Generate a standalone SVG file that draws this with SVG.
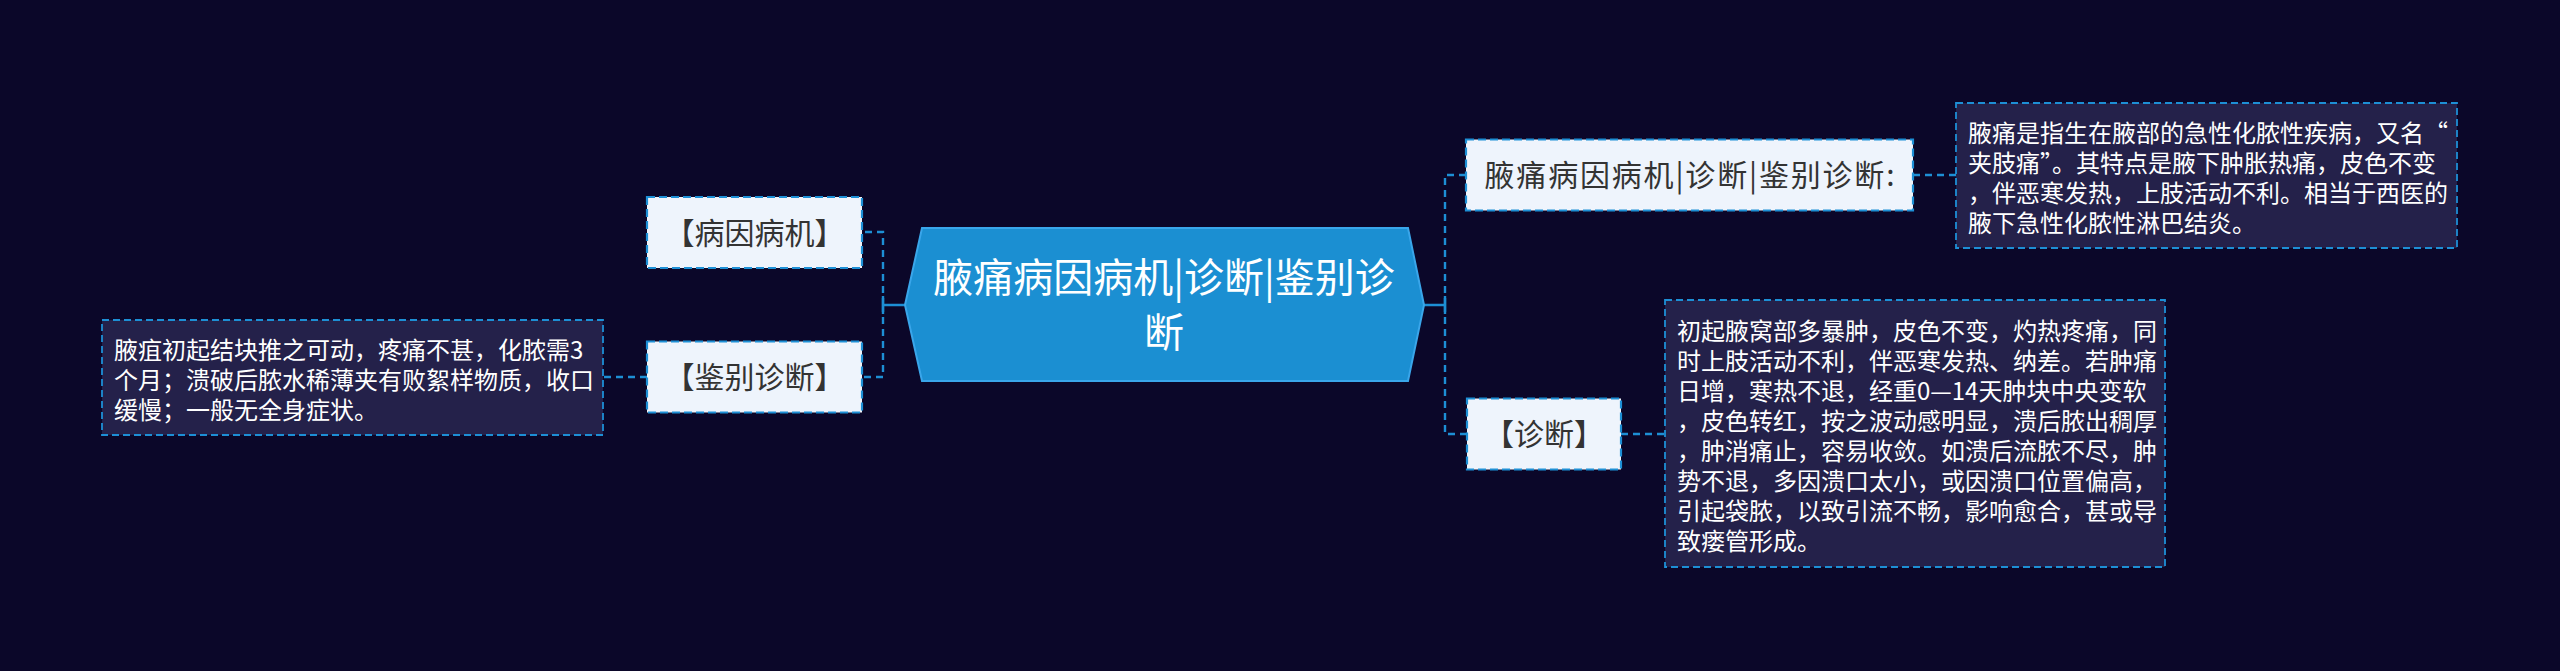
<svg xmlns="http://www.w3.org/2000/svg" width="2560" height="671" viewBox="0 0 2560 671">
<style>
.bg{fill:#0b0729}
.conn{fill:none;stroke:#1d8fd5;stroke-width:2.4;stroke-dasharray:7 5}
.solid{fill:none;stroke:#1d8fd5;stroke-width:2.4}
.node{fill:#eef4fc;stroke:#1d8fd5;stroke-width:2.2;stroke-dasharray:8 4}
.desc{fill:#24214a;stroke:#1d8fd5;stroke-width:1.8;stroke-dasharray:7 4}
.hex{fill:#1b8fd2;stroke:#3aa6ea;stroke-width:2}
.t-node{font-family:"Noto Sans CJK SC","Noto Sans",sans-serif;font-size:30px;fill:#333333;text-anchor:middle}
.t-main{font-family:"Noto Sans CJK SC","Noto Sans",sans-serif;font-size:40px;fill:#ffffff;text-anchor:middle}
.t-desc{font-family:"Noto Sans CJK SC","Noto Sans",sans-serif;font-size:24px;fill:#ffffff}
</style>
<rect class="bg" x="0" y="0" width="2560" height="671"/>
<g id="connectors">
  <path class="conn" d="M883 305 V232 H862"/>
  <path class="conn" d="M883 305 V377 H862"/>
  <path class="solid" d="M883 305 H905 M883 296 V314"/>
  <path class="conn" d="M647 377 H603"/>
  <path class="conn" d="M1445 305 V175 H1466"/>
  <path class="conn" d="M1445 305 V434 H1467"/>
  <path class="solid" d="M1424 305 H1445 M1445 296 V314"/>
  <path class="conn" d="M1913 175 H1956"/>
  <path class="conn" d="M1621 434 H1665"/>
</g>
<g id="root">
  <polygon class="hex" points="905,305 922,228 1408,228 1424,305 1408,381 922,381"/>
  <text class="t-main" x="1164" y="292">腋痛病因病机|诊断|鉴别诊</text>
  <text class="t-main" x="1164" y="347">断</text>
</g>
<g id="n-bingyin">
  <rect class="node" x="647" y="197" width="215" height="71"/>
  <text class="t-node" x="754.5" y="243.5">【病因病机】</text>
</g>
<g id="n-jianbie">
  <rect class="node" x="647" y="341.5" width="215" height="71"/>
  <text class="t-node" x="754.5" y="388">【鉴别诊断】</text>
</g>
<g id="d-jianbie">
  <rect class="desc" x="102" y="320" width="501" height="115"/>
  <text class="t-desc" x="114" y="358.5">腋疽初起结块推之可动，疼痛不甚，化脓需3</text>
  <text class="t-desc" x="114" y="388.5">个月；溃破后脓水稀薄夹有败絮样物质，收口</text>
  <text class="t-desc" x="114" y="418.5">缓慢；一般无全身症状。</text>
</g>
<g id="n-title">
  <rect class="node" x="1466" y="139.5" width="447" height="71"/>
  <text class="t-node" x="1689.5" y="186" textLength="410" lengthAdjust="spacing">腋痛病因病机|诊断|鉴别诊断:</text>
</g>
<g id="d-title">
  <rect class="desc" x="1956" y="103" width="501" height="145"/>
  <text class="t-desc" x="1968" y="141.5">腋痛是指生在腋部的急性化脓性疾病，又名“</text>
  <text class="t-desc" x="1968" y="171.5">夹肢痛”。其特点是腋下肿胀热痛，皮色不变</text>
  <text class="t-desc" x="1968" y="201.5">，伴恶寒发热，上肢活动不利。相当于西医的</text>
  <text class="t-desc" x="1968" y="231.5">腋下急性化脓性淋巴结炎。</text>
</g>
<g id="n-zhenduan">
  <rect class="node" x="1467" y="398.5" width="154" height="71"/>
  <text class="t-node" x="1544" y="445">【诊断】</text>
</g>
<g id="d-zhenduan">
  <rect class="desc" x="1665" y="300" width="500" height="267"/>
  <text class="t-desc" x="1677" y="340">初起腋窝部多暴肿，皮色不变，灼热疼痛，同</text>
  <text class="t-desc" x="1677" y="370">时上肢活动不利，伴恶寒发热、纳差。若肿痛</text>
  <text class="t-desc" x="1677" y="400">日增，寒热不退，经重0—14天肿块中央变软</text>
  <text class="t-desc" x="1677" y="430">，皮色转红，按之波动感明显，溃后脓出稠厚</text>
  <text class="t-desc" x="1677" y="460">，肿消痛止，容易收敛。如溃后流脓不尽，肿</text>
  <text class="t-desc" x="1677" y="490">势不退，多因溃口太小，或因溃口位置偏高，</text>
  <text class="t-desc" x="1677" y="520">引起袋脓，以致引流不畅，影响愈合，甚或导</text>
  <text class="t-desc" x="1677" y="550">致瘘管形成。</text>
</g>
</svg>
